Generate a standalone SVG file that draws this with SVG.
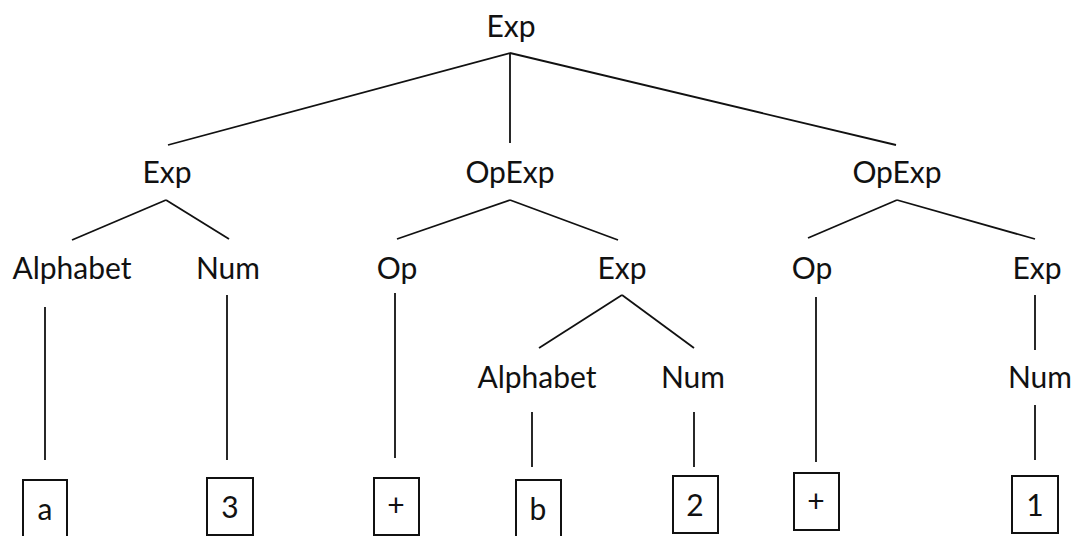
<svg xmlns="http://www.w3.org/2000/svg" width="1081" height="536" viewBox="0 0 1081 536">
<style>
text{font-family:Lato,"Liberation Sans",sans-serif;font-size:30px;fill:#111;text-anchor:middle}
.e line{stroke:#111;stroke-width:1.8;fill:none}
rect{fill:#fff;stroke:#111;stroke-width:2}
</style>
<rect x="0" y="0" width="1081" height="536" style="stroke:none"/>
<g class="e" id="connectors">
<line x1="510" y1="53" x2="168" y2="145"/>
<line x1="510" y1="53" x2="510" y2="143"/>
<line x1="510" y1="53" x2="896" y2="145"/>
<line x1="166" y1="200" x2="72" y2="240"/>
<line x1="166" y1="200" x2="229" y2="239"/>
<line x1="510" y1="200" x2="397" y2="239"/>
<line x1="510" y1="200" x2="618" y2="240"/>
<line x1="897" y1="200" x2="808" y2="238"/>
<line x1="897" y1="200" x2="1035" y2="239"/>
<line x1="45" y1="307" x2="45" y2="460"/>
<line x1="227" y1="295" x2="227" y2="460"/>
<line x1="395" y1="293" x2="395" y2="458"/>
<line x1="622" y1="295" x2="539" y2="348"/>
<line x1="622" y1="295" x2="694" y2="348"/>
<line x1="816" y1="297" x2="816" y2="462"/>
<line x1="1035" y1="295" x2="1035" y2="350"/>
<line x1="532" y1="412" x2="532" y2="467"/>
<line x1="694" y1="412" x2="694" y2="467"/>
<line x1="1035" y1="405" x2="1035" y2="460"/>
</g>
<g id="n-root"><text x="511" y="37">Exp</text></g>
<g id="n-exp1"><text x="167" y="183">Exp</text></g>
<g id="n-opexp1"><text x="510" y="183">OpExp</text></g>
<g id="n-opexp2"><text x="897" y="183">OpExp</text></g>
<g id="n-alpha1"><text x="72" y="279">Alphabet</text></g>
<g id="n-num1"><text x="228" y="279">Num</text></g>
<g id="n-op1"><text x="397" y="279">Op</text></g>
<g id="n-exp2"><text x="622" y="279">Exp</text></g>
<g id="n-op2"><text x="812" y="279">Op</text></g>
<g id="n-exp3"><text x="1037" y="279">Exp</text></g>
<g id="n-alpha2"><text x="537" y="388">Alphabet</text></g>
<g id="n-num2"><text x="693" y="388">Num</text></g>
<g id="n-num3"><text x="1040" y="388">Num</text></g>
<g id="t-a"><rect x="23" y="480" width="44" height="60"/><text x="45" y="520">a</text></g>
<g id="t-3"><rect x="207" y="478" width="46" height="57"/><text x="230" y="518">3</text></g>
<g id="t-plus1"><rect x="374" y="478" width="45" height="57"/><text x="396" y="516">+</text></g>
<g id="t-b"><rect x="516" y="480" width="45" height="60"/><text x="538" y="520">b</text></g>
<g id="t-2"><rect x="673" y="476" width="45" height="57"/><text x="695" y="516">2</text></g>
<g id="t-plus2"><rect x="794" y="473" width="45" height="57"/><text x="816" y="512">+</text></g>
<g id="t-1"><rect x="1012" y="476" width="46" height="57"/><text x="1035" y="516">1</text></g>
</svg>
